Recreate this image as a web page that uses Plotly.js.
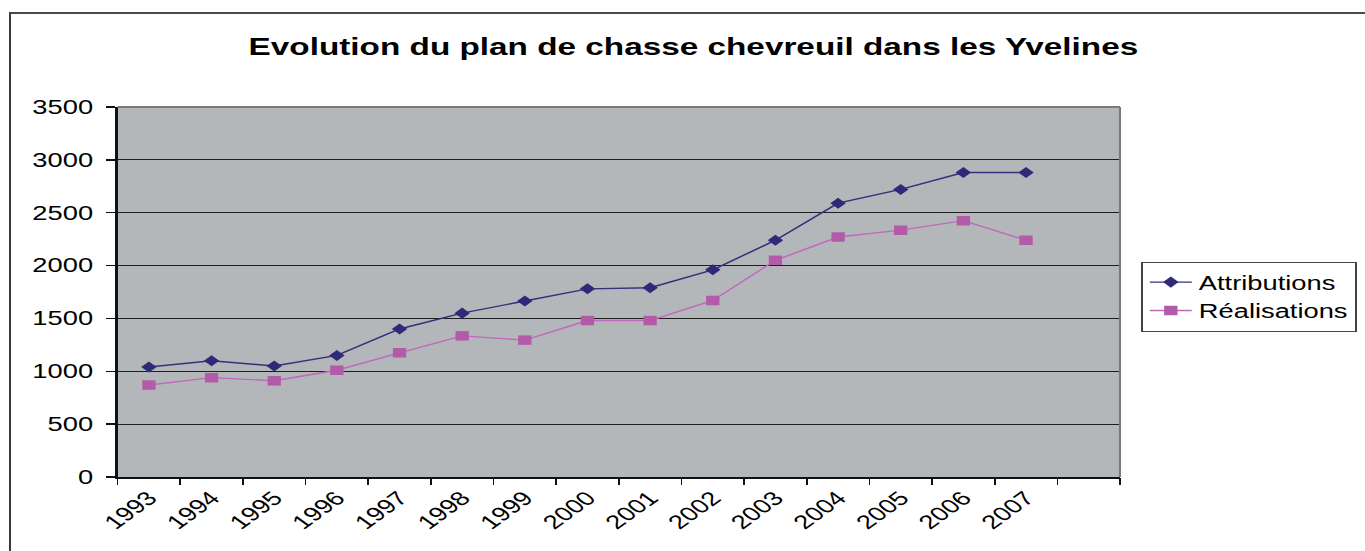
<!DOCTYPE html>
<html>
<head>
<meta charset="utf-8">
<script src="https://cdn.plot.ly/plotly-3.0.1.min.js"></script>
<style>
  html, body { margin: 0; padding: 0; background: #ffffff; overflow: hidden; }
  #wrap { position: relative; width: 1365px; height: 551px; overflow: hidden; }
  #chart { position: absolute; left: 0; top: 0; width: 975px; height: 551px;
           transform: scaleX(1.4); transform-origin: 0 0; }
  #frame { position: absolute; left: 9px; top: 12px; width: 1400px; height: 600px;
           border-left: 2px solid #3a3a3a; border-top: 2px solid #4a4a4a; pointer-events: none; }
</style>
</head>
<body>
<div id="wrap">
  <div id="chart"></div>
  <div id="frame"></div>
</div>
<script>
const years = [1993, 1994, 1995, 1996, 1997, 1998, 1999, 2000, 2001, 2002, 2003, 2004, 2005, 2006, 2007];
const yearLabels = ["1993", "1994", "1995", "1996", "1997", "1998", "1999", "2000", "2001", "2002", "2003", "2004", "2005", "2006", "2007"];
const attributions = [1040, 1100, 1050, 1150, 1400, 1550, 1665, 1780, 1790, 1960, 2240, 2590, 2720, 2880, 2880];
const realisations = [870, 940, 910, 1010, 1175, 1335, 1295, 1480, 1480, 1670, 2050, 2270, 2335, 2425, 2240];
const yTicks = [0, 500, 1000, 1500, 2000, 2500, 3000, 3500];

const FONT = "Liberation Sans, Arial, Helvetica, sans-serif";

const traces = [
  {
    x: years, y: attributions, name: "Attributions", type: "scatter", mode: "lines+markers",
    line: { color: "#34317c", width: 1.4 },
    marker: { symbol: "diamond", size: 8.5, color: "#2f2a78" },
    xaxis: "x", yaxis: "y"
  },
  {
    x: years, y: realisations, name: "Réalisations", type: "scatter", mode: "lines+markers",
    line: { color: "#c068bd", width: 1.4 },
    marker: { symbol: "square", size: 9.5, color: "#b35aa8" },
    xaxis: "x", yaxis: "y"
  },
  {
    x: years, y: attributions, xaxis: "x2", yaxis: "y", type: "scatter", mode: "none",
    showlegend: false, hoverinfo: "skip"
  }
];

const layout = {
  width: 975, height: 551,
  margin: { l: 83.6, r: 175, t: 107, b: 74, pad: 0, autoexpand: false },
  paper_bgcolor: "#ffffff",
  plot_bgcolor: "#b4b7ba",
  showlegend: true,
  title: {
    text: "<b>Evolution du plan de chasse chevreuil dans les Yvelines</b>",
    font: { family: FONT, size: 23.8, color: "#000000" },
    x: 0.508, xref: "container", xanchor: "center",
    y: 0.915, yref: "container", yanchor: "middle"
  },
  xaxis: {
    range: [1992.5, 2008.5],
    tickmode: "array", tickvals: years, ticktext: yearLabels,
    tickangle: -45,
    ticks: "", showgrid: false, zeroline: false,
    showline: true, linecolor: "#111111", linewidth: 2,
    tickfont: { family: FONT, size: 19.5, color: "#000000" },
    automargin: false,
    fixedrange: true
  },
  xaxis2: {
    overlaying: "x", anchor: "y", side: "bottom",
    range: [1992.5, 2008.5],
    tickmode: "linear", tick0: 1992.5, dtick: 1,
    ticks: "outside", ticklen: 7, tickwidth: 1.2, tickcolor: "#111111",
    showticklabels: false, showgrid: false, zeroline: false, showline: false
  },
  yaxis: {
    range: [0, 3500],
    tickmode: "array", tickvals: yTicks,
    ticks: "outside", ticklen: 7, tickwidth: 1.3, tickcolor: "#111111",
    ticklabelstandoff: 5,
    showgrid: true, gridcolor: "#1e1e1e", gridwidth: 1.2,
    zeroline: false,
    showline: true, linecolor: "#111111", linewidth: 1.6,
    tickfont: { family: FONT, size: 19.5, color: "#000000" },
    automargin: false,
    fixedrange: true
  },
  legend: {
    x: 0.836, xanchor: "left", xref: "container",
    y: 0.525, yanchor: "top", yref: "container",
    bgcolor: "#ffffff", bordercolor: "#444444", borderwidth: 1.2,
    font: { family: FONT, size: 19.5, color: "#000000" },
    tracegroupgap: 0
  },
  shapes: [
    { type: "line", xref: "paper", yref: "paper", x0: 0, x1: 1, y0: 1, y1: 1,
      line: { color: "#7a7a7a", width: 2 }, layer: "above" },
    { type: "line", xref: "paper", yref: "paper", x0: 1, x1: 1, y0: 0, y1: 1,
      line: { color: "#7a7a7a", width: 1.5 }, layer: "above" }
  ]
};

Plotly.newPlot("chart", traces, layout, { displayModeBar: false, staticPlot: true });
</script>
</body>
</html>
